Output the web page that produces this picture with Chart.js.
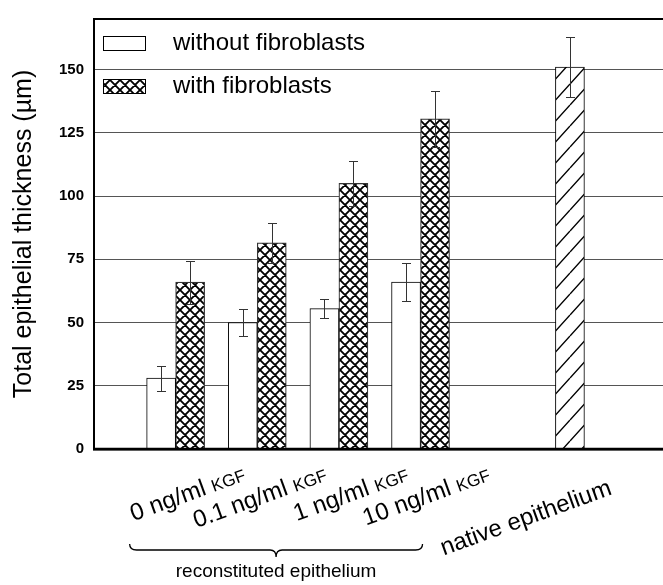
<!DOCTYPE html>
<html>
<head>
<meta charset="utf-8">
<title>Total epithelial thickness</title>
<script src="https://cdn.jsdelivr.net/npm/chart.js@4.4.1/dist/chart.umd.min.js"></script>
<style>
  html, body { margin: 0; padding: 0; background: #fff; }
  #wrap { width: 663px; height: 585px; position: relative; }
</style>
</head>
<body>
<div id="wrap"><canvas id="chart"></canvas></div>
<script>
// ============================================
// Data
// ============================================
const categories = ['0 ng/ml', '0.1 ng/ml', '1 ng/ml', '10 ng/ml', 'native epithelium'];
const categoryUnits = ['KGF', 'KGF', 'KGF', 'KGF', ''];
const categoryX = [1, 2, 3, 4, 5.83];

const withoutFibroblasts = [28, 50, 55.5, 66];
const withoutFibroblastsErr = [5, 5.5, 3.7, 7.5];
const withFibroblasts = [66, 81.5, 105, 130.5];
const withFibroblastsErr = [8.5, 8, 9, 11];
const nativeEpithelium = [151];
const nativeEpitheliumErr = [12];

const yTicks = [0, 25, 50, 75, 100, 125, 150];
const groupLabel = 'reconstituted epithelium';

const FONT = '"Liberation Sans", Arial, Helvetica, sans-serif';
Chart.defaults.font.family = FONT;
Chart.defaults.color = '#000';

// ============================================
// Fill patterns
// ============================================
function makePattern(w, h, draw) {
    const c = document.createElement('canvas');
    c.width = w;
    c.height = h;
    const g = c.getContext('2d');
    g.fillStyle = '#fff';
    g.fillRect(0, 0, w, h);
    g.strokeStyle = '#000';
    draw(g, w, h);
    return g.createPattern(c, 'repeat');
}

const crossHatch = makePattern(10, 10, (g, w, h) => {
    g.lineWidth = 1.9;
    g.beginPath();
    for (const dx of [-w, 0, w]) {
        g.moveTo(dx, 0); g.lineTo(dx + w, h);
        g.moveTo(dx, h); g.lineTo(dx + w, 0);
    }
    g.stroke();
});

const diagHatch = makePattern(19, 21, (g, w, h) => {
    g.lineWidth = 1.4;
    g.beginPath();
    for (const dx of [-w, 0, w]) {
        g.moveTo(dx, h); g.lineTo(dx + w, 0);
    }
    g.stroke();
});

const toPoints = (vals, offset = 0) => vals.map((v, i) => ({ x: categoryX[i + offset], y: v }));

// ============================================
// Plugins
// ============================================
const framePlugin = {
    id: 'frame',
    afterDatasetsDraw(chart) {
        const { ctx, chartArea: a } = chart;
        ctx.save();
        ctx.strokeStyle = '#000';
        ctx.lineWidth = 2;
        ctx.beginPath();
        ctx.moveTo(a.left, a.top); ctx.lineTo(a.right, a.top);
        ctx.moveTo(a.left, a.top); ctx.lineTo(a.left, a.bottom);
        ctx.stroke();
        ctx.lineWidth = 2.5;
        ctx.beginPath();
        ctx.moveTo(a.left - 1, a.bottom); ctx.lineTo(a.right, a.bottom);
        ctx.stroke();
        ctx.restore();
    }
};

const errorBarPlugin = {
    id: 'errorBars',
    afterDatasetsDraw(chart) {
        const { ctx } = chart;
        const yScale = chart.scales.y;
        ctx.save();
        ctx.strokeStyle = '#333';
        ctx.lineWidth = 1;
        chart.data.datasets.forEach((ds, di) => {
            if (!ds.errors) return;
            chart.getDatasetMeta(di).data.forEach((bar, j) => {
                const v = ds.data[j].y;
                const e = ds.errors[j];
                const x = Math.round(bar.x) + 0.5;
                const top = Math.round(yScale.getPixelForValue(v + e)) + 0.5;
                const bot = Math.round(yScale.getPixelForValue(v - e)) + 0.5;
                ctx.beginPath();
                ctx.moveTo(x, top); ctx.lineTo(x, bot);
                ctx.moveTo(x - 4.5, top); ctx.lineTo(x + 4.5, top);
                ctx.moveTo(x - 4.5, bot); ctx.lineTo(x + 4.5, bot);
                ctx.stroke();
            });
        });
        ctx.restore();
    }
};

const insideLegendPlugin = {
    id: 'insideLegend',
    afterDatasetsDraw(chart) {
        const { ctx, chartArea: a } = chart;
        ctx.save();
        chart.data.datasets.slice(0, 2).forEach((ds, i) => {
            const x = a.left + 9;
            const base = a.top + 31 + i * 43;
            ctx.fillStyle = ds.backgroundColor;
            ctx.fillRect(x, base - 14, 43, 15);
            ctx.strokeStyle = '#000';
            ctx.lineWidth = 1;
            ctx.strokeRect(x + 0.5, base - 13.5, 42, 14);
            ctx.fillStyle = '#000';
            ctx.font = '24px ' + FONT;
            ctx.textAlign = 'left';
            ctx.textBaseline = 'alphabetic';
            ctx.fillText(ds.label, x + 70, base);
        });
        ctx.restore();
    }
};

const categoryLabelPlugin = {
    id: 'categoryLabels',
    afterDraw(chart) {
        const { ctx, chartArea: a } = chart;
        const xs = chart.scales.x;
        ctx.save();
        ctx.fillStyle = '#000';
        ctx.textBaseline = 'alphabetic';
        categories.forEach((name, i) => {
            const px = xs.getPixelForValue(categoryX[i]);
            const unit = categoryUnits[i];
            ctx.save();
            ctx.translate(px + (unit ? 71 : 43), a.bottom + (unit ? 31 : 45));
            ctx.rotate(-20 * Math.PI / 180);
            ctx.textAlign = 'right';
            let w = 0;
            if (unit) {
                ctx.font = '17px ' + FONT;
                ctx.fillText(unit, 0, 0);
                w = ctx.measureText(unit).width;
                ctx.font = '24px ' + FONT;
                w += ctx.measureText(' ').width;
            }
            ctx.font = '24px ' + FONT;
            ctx.fillText(name, -w, 0);
            ctx.restore();
        });

        // brace under the reconstituted groups
        const L = xs.getPixelForValue(categoryX[0]) - 46;
        const R = xs.getPixelForValue(categoryX[3]) + 2;
        const M = (L + R) / 2;
        const yTop = a.bottom + 95, yMid = a.bottom + 101, yTip = a.bottom + 108;
        ctx.strokeStyle = '#000';
        ctx.lineWidth = 1.3;
        ctx.beginPath();
        ctx.moveTo(L, yTop);
        ctx.quadraticCurveTo(L, yMid, L + 7, yMid);
        ctx.lineTo(M - 6, yMid);
        ctx.quadraticCurveTo(M, yMid, M, yTip);
        ctx.quadraticCurveTo(M, yMid, M + 6, yMid);
        ctx.lineTo(R - 7, yMid);
        ctx.quadraticCurveTo(R, yMid, R, yTop);
        ctx.stroke();

        ctx.font = '19px ' + FONT;
        ctx.textAlign = 'center';
        ctx.fillText(groupLabel, M, a.bottom + 128);
        ctx.restore();
    }
};

// ============================================
// Chart
// ============================================
new Chart(document.getElementById('chart'), {
    type: 'bar',
    data: {
        datasets: [
            {
                label: 'without fibroblasts',
                data: toPoints(withoutFibroblasts),
                errors: withoutFibroblastsErr,
                backgroundColor: '#fff',
                borderColor: '#000',
                borderWidth: 1
            },
            {
                label: 'with fibroblasts',
                data: toPoints(withFibroblasts),
                errors: withFibroblastsErr,
                backgroundColor: crossHatch,
                borderColor: '#333',
                borderWidth: 1.2
            },
            {
                label: 'native epithelium',
                data: toPoints(nativeEpithelium, 4),
                errors: nativeEpitheliumErr,
                backgroundColor: diagHatch,
                borderColor: '#000',
                borderWidth: 1
            }
        ]
    },
    options: {
        responsive: true,
        maintainAspectRatio: false,
        animation: false,
        layout: { padding: { top: 10, left: 0, right: 0, bottom: 0 } },
        datasets: {
            bar: { barThickness: 29, skipNull: true, grouped: true }
        },
        plugins: {
            legend: { display: false },
            tooltip: { enabled: false }
        },
        scales: {
            x: {
                type: 'linear',
                min: 0,
                max: 6.97,
                offset: false,
                afterFit: s => { s.height = 136; },
                ticks: { display: false },
                grid: { display: false, drawTicks: false },
                border: { display: true, color: '#000', width: 2.5 }
            },
            y: {
                min: 0,
                max: 170,
                afterBuildTicks: s => { s.ticks = yTicks.map(v => ({ value: v })); },
                afterFit: s => { s.width = 94; },
                grid: { color: '#555', lineWidth: 1, drawTicks: false },
                border: { display: true, color: '#000', width: 2 },
                ticks: { color: '#000', padding: 10, font: { size: 15, weight: 'bold' } },
                title: {
                    display: true,
                    text: 'Total epithelial thickness (µm)',
                    color: '#000',
                    font: { size: 25 },
                    padding: { top: 9, bottom: 0 }
                }
            }
        }
    },
    plugins: [framePlugin, errorBarPlugin, insideLegendPlugin, categoryLabelPlugin]
});
</script>
</body>
</html>
